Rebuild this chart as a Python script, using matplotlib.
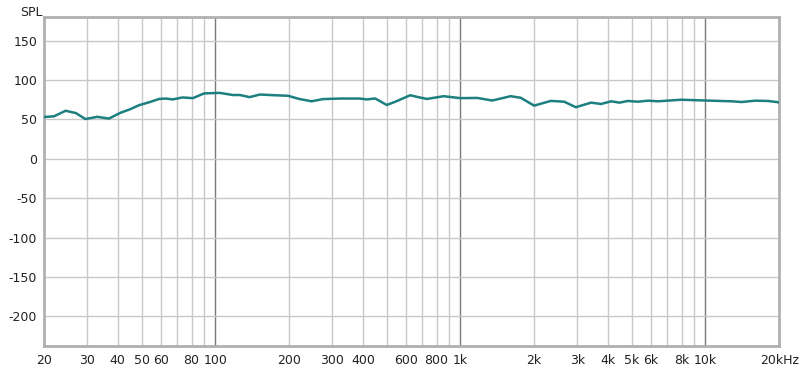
import matplotlib.pyplot as plt
from matplotlib.ticker import FixedLocator, NullFormatter

# frequency response
freq = [20, 22, 24.5, 27, 29.5, 33, 36.8, 41, 45, 48.8, 54, 59, 63, 67, 73.5,
        81, 90, 104, 118, 126, 138, 152, 172, 198, 220, 247, 275, 322, 389,
        415, 449, 501, 551, 624, 680, 731, 855, 1000, 1171, 1350, 1604, 1763,
        1937, 2000, 2340, 2652, 2960, 3414, 3752, 4123, 4458, 4823, 5302,
        5826, 6402, 7976, 10000, 12790, 14060, 15930, 18080, 20000]
spl = [53, 54, 61, 58, 50.5, 53.3, 51, 58.4, 63, 68, 72, 76, 76.5, 75.4, 77.9,
       77, 83, 83.7, 81, 81, 78.3, 81.6, 80.8, 80, 76, 73, 75.8, 76.5, 76.5,
       75.4, 76.6, 68.3, 73.3, 80.7, 78, 76, 79.5, 77, 77.3, 74, 79.5, 77.5,
       70, 67.5, 73.5, 72.5, 65.5, 71.3, 69.6, 73, 71.3, 73.4, 72.5,
       73.8, 73, 75, 74, 73, 72.1, 73.8, 73.4, 71.6]

xticks = [20, 30, 40, 50, 60, 80, 100, 200, 300, 400, 600, 800, 1000, 2000,
          3000, 4000, 5000, 6000, 8000, 10000, 20000]
xlabels = ['20', '30', '40', '50', '60', '80', '100', '200', '300', '400',
           '600', '800', '1k', '2k', '3k', '4k', '5k', '6k', '8k', '10k', '20kHz']
yticks = [150, 100, 50, 0, -50, -100, -150, -200]

fig = plt.figure(figsize=(8, 3.71), dpi=100)
ax = fig.add_axes([0.055, 0.067, 0.919, 0.887])

ax.set_xscale('log')
ax.set_xlim(20, 20000)
ax.set_ylim(-238, 180)

# grid: light lines at every 1..9 multiple, darker at decades
minor = [m * 10 ** d for d in range(1, 5) for m in range(1, 10)]
minor = [f for f in minor if 20 < f < 20000 and f not in (100, 1000, 10000)]
for f in minor:
    ax.axvline(f, color='#c8c8c8', lw=1, zorder=0)
for f in (100, 1000, 10000):
    ax.axvline(f, color='#7a7a7a', lw=1, zorder=0)
for y in yticks:
    ax.axhline(y, color='#c8c8c8', lw=1, zorder=0)

ax.plot(freq, spl, color='#1d7f80', lw=1.8, solid_joinstyle='round', zorder=3)

ax.xaxis.set_major_locator(FixedLocator(xticks))
ax.xaxis.set_minor_formatter(NullFormatter())
ax.set_xticks(xticks)
ax.set_xticklabels(xlabels)
ax.set_yticks(yticks)
ax.set_yticklabels([str(v) for v in yticks])
ax.tick_params(axis='both', which='both', length=0, labelsize=9, colors='#222222')
ax.tick_params(axis='x', pad=6)
ax.tick_params(axis='y', pad=5)

for spine in ax.spines.values():
    spine.set_color('#b0b0b0')
    spine.set_linewidth(2)

fig.text(0.025, 0.985, 'SPL', fontsize=9, va='top', ha='left', color='#222222')

fig.savefig('out.png', dpi=100)
